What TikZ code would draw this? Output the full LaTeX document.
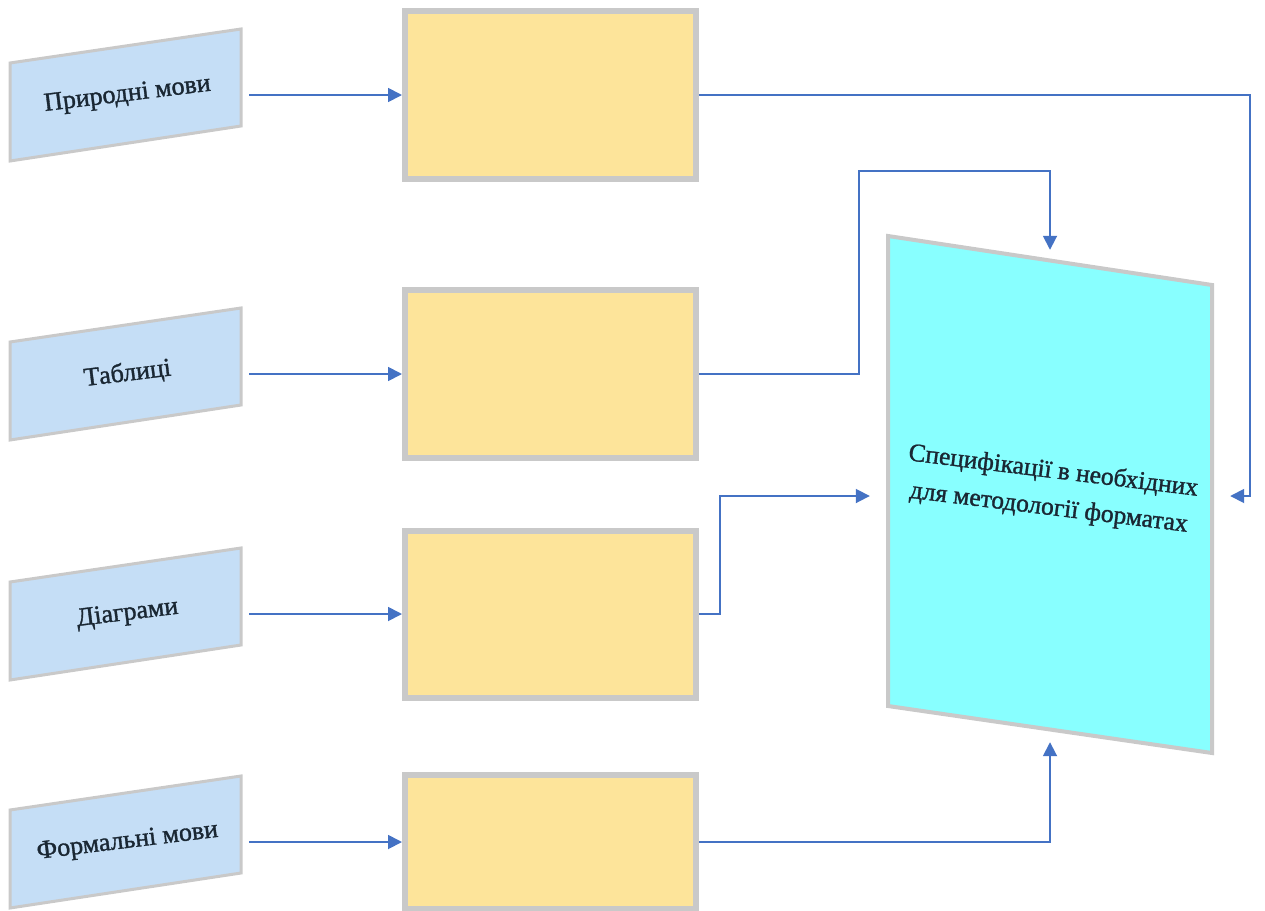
\documentclass[tikz,border=0pt]{standalone}
\usepackage{fontspec}
\setmainfont{Liberation Serif}
\newfontfamily\heavyserif[FakeBold=1.3]{Liberation Serif}
\usetikzlibrary{arrows.meta}
\definecolor{pblue}{HTML}{C5DEF6}
\definecolor{pgray}{HTML}{C9C9C9}
\definecolor{byel}{HTML}{FDE49A}
\definecolor{cyanf}{HTML}{88FFFF}
\definecolor{ablue}{HTML}{4472C4}
\definecolor{txt}{HTML}{1A2733}
\tikzset{
  lefttxt/.style={font=\heavyserif\fontsize{26}{30}\selectfont, text=txt, rotate=7, inner sep=0},
  leftanchor/.style={minimum width=231pt, minimum height=96pt, inner sep=0},
  ybox/.style={draw=pgray, fill=byel, line width=6pt, minimum width=291pt, inner sep=0},
  conn/.style={draw=ablue, line width=1.8pt, -{Triangle[length=14pt,width=14pt]}},
  quad/.style={draw=pgray, fill=pblue, line width=3pt, line join=miter},
  specquad/.style={draw=pgray, fill=cyanf, line width=4pt, line join=miter},
  spectxt/.style={font=\heavyserif\fontsize{25.5}{37}\selectfont, text=txt, rotate=-7, align=center, inner sep=0},
}
\newcommand\leftshape[4]{%
  \path[quad] (#2-115.5,#3-32) -- (#2+115.5,#3-66) -- (#2+115.5,#3+31) -- (#2-115.5,#3+66) -- cycle;
  \node[leftanchor] (#1) at (#2,#3) {};
  \node[lefttxt] (#1t) at (#2+2,#3) {#4};
}
\begin{document}
\begin{tikzpicture}[x=1pt,y=-1pt]
\useasboundingbox (0,0) rectangle (1265,910);
% left shapes
\leftshape{p1}{125.5}{95}{Природні мови}
\leftshape{p2}{125.5}{374}{Таблиці}
\leftshape{p3}{125.5}{614}{Діаграми}
\leftshape{p4}{125.5}{842}{Формальні мови}
% yellow boxes
\node[ybox, minimum height=168pt] (b1) at (550.5,95) {};
\node[ybox, minimum height=168pt] (b2) at (550.5,374) {};
\node[ybox, minimum height=167pt] (b3) at (550.5,614) {};
\node[ybox, minimum height=134pt] (b4) at (550.5,842) {};
% spec shape
\path[specquad] (888,236) -- (1212,285) -- (1212,753) -- (888,706) -- cycle;
\node[minimum width=360pt, minimum height=492pt, inner sep=0] (spec) at (1050,496) {};
\node[spectxt] (spect) at (1051,490) {Специфікації в необхідних\\для методології форматах};
% connectors
\draw[conn] ([xshift=8pt]p1.east) -- (b1.west);
\draw[conn] ([xshift=8pt]p2.east) -- (b2.west);
\draw[conn] ([xshift=8pt]p3.east) -- (b3.west);
\draw[conn] ([xshift=8pt]p4.east) -- (b4.west);
\draw[conn] (b1.east) -| ([xshift=20pt]spec.east) -- (spec.east);
\draw[conn] (b2.east) -- ++(160,0) |- ([yshift=79pt]spec.north) -- (spec.north);
\draw[conn] (b3.east) -- ++(21,0) |- (spec.west);
\draw[conn] (b4.east) -| (spec.south);
\end{tikzpicture}
\end{document}
